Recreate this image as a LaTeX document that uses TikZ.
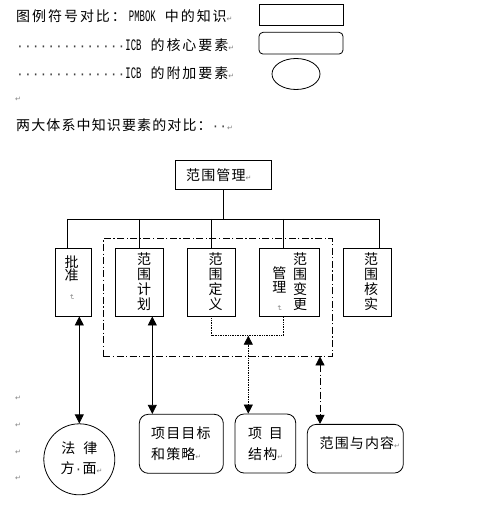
\documentclass[tikz,border=0pt]{standalone}
\usepackage{fontspec}
\usepackage{graphicx}
\usetikzlibrary{arrows.meta,shapes.geometric}
\newfontfamily\zhf[LetterSpace=8]{Noto Sans CJK SC}
\newfontfamily\zhw[LetterSpace=14]{Noto Sans CJK SC}
\newfontfamily\lmf{Liberation Mono}
\newfontfamily\syf{DejaVu Sans}
\newcommand\pmk{{\syf\fontsize{7}{7}\selectfont\textcolor{gray}{↵}}}
\newcommand\latw[1]{\scalebox{0.56}[1]{\lmf\fontsize{16}{16}\selectfont #1}}
\newcommand\spd[1]{{\lmf\fontsize{13}{13}\selectfont\textcolor{black!75}{#1}}}
\begin{document}
\begin{tikzpicture}[x=1pt,y=-1pt,
  bx/.style={draw, line width=0.8pt, inner sep=0},
  tx/.style={inner sep=0, font=\zhf\fontsize{14}{15}\selectfont, align=center},
  txs/.style={inner sep=0, font=\zhf\fontsize{14}{13.5}\selectfont, align=center},
  lk/.style={line width=0.8pt},
  dbl/.style={lk, {Triangle[length=9pt,width=9pt]}-{Triangle[length=9pt,width=9pt]}},
  ddot/.style={dash pattern=on 7pt off 2.5pt on 1.2pt off 2.5pt}]
\useasboundingbox (0,0) rectangle (483,510);
\fill[white] (0,0) rectangle (483,510);

% legend
\node[tx, anchor=west] (lg1) at (16,16.5) {{\zhw 图例符号对比：}\hspace{3pt}\latw{PMBOK}\hspace{9pt}{\zhw 中的知识}\pmk};
\node[bx, minimum width=84pt, minimum height=21.4pt] (k1) at (301,15) {};
\node[tx, anchor=west] (lg2) at (16,45) {\spd{··············}\latw{ICB}\hspace{9pt}{\zhw 的核心要素}\pmk};
\node[bx, rounded corners=4pt, minimum width=84pt, minimum height=21.7pt] (k2) at (301,43.2) {};
\node[tx, anchor=west] (lg3) at (16,73.5) {\spd{··············}\latw{ICB}\hspace{9pt}{\zhw 的附加要素}\pmk};
\node[bx, ellipse, minimum width=48pt, minimum height=31pt] (k3) at (296,74) {};
\node[tx] (pm0) at (18,99) {\pmk};
\node[tx, anchor=west] (lg4) at (16,125) {两大体系中知识要素的对比：\spd{··}\pmk};

% top
\node[bx, minimum width=96.7pt, minimum height=29pt] (top) at (223.3,174.5) {};
\node[tx, anchor=west] (topt) at (186,175) {范围管理\pmk};

\coordinate (t1) at (67.3,219);
\coordinate (t2) at (139.3,219);
\coordinate (t3) at (211.7,219);
\coordinate (t4) at (283.3,219);
\coordinate (t5) at (379.3,219);

\node[bx, minimum width=36pt, minimum height=67.7pt] (b1) at (73.7,282.2) {};
\node[bx, minimum width=47.6pt, minimum height=67.7pt] (b2) at (139.5,282.2) {};
\node[bx, minimum width=48pt, minimum height=67.7pt] (b3) at (211.7,282.2) {};
\node[bx, minimum width=60pt, minimum height=67.7pt] (b4) at (289.3,282.2) {};
\node[bx, minimum width=48.4pt, minimum height=67.7pt] (b5) at (367.5,282.2) {};

\draw[lk] (top.south) -- (top.south |- t1);
\draw[lk] (t1) -- (t5);
\draw[lk] (t1) -- (t1 |- b1.north);
\draw[lk] (t2) -- (t2 |- b2.north);
\draw[lk] (t3) -- (t3 |- b3.north);
\draw[lk] (t4) -- (t4 |- b4.north);
\draw[lk] (t5) -- (t5 |- b5.north);

\node[txs] (v1) at (71.7,277.7) {批\\准\\\rotatebox{-90}{\pmk}};
\node[tx] (v2) at (144,281.6) {范\\围\\计\\划};
\node[tx] (v3) at (215.7,281.6) {范\\围\\定\\义};
\node[tx] (v4a) at (300,281.6) {范\\围\\变\\更};
\node[txs] (v4b) at (279.3,289.3) {管\\理\\\rotatebox{-90}{\pmk}};
\node[tx] (v5) at (371,281.6) {范\\围\\核\\实};

% dash-dot frame
\node[draw, lk, ddot, inner sep=0, minimum width=228.7pt, minimum height=117.7pt] (dd) at (217.65,297.15) {};

% dotted link
\coordinate (dc) at (283.3,335.7);
\coordinate (dm) at (248.3,335.7);
\draw[line width=0.7pt, densely dotted] (b3.south) |- (dc) -- (dc |- b4.south);

% bottom shapes
\node[bx, circle, minimum size=71pt] (c1) at (79.3,459.3) {};
\node[bx, rounded corners=9pt, minimum width=84pt, minimum height=59pt] (s2) at (181.3,443.8) {};
\node[bx, rounded corners=9pt, minimum width=60.7pt, minimum height=59pt] (s3) at (265.4,443.5) {};
\node[bx, rounded corners=9pt, minimum width=96pt, minimum height=48.7pt] (s4) at (355.3,448.7) {};

\node[tx] (c1a) at (79.3,448.3) {法\hspace{8pt}律};
\node[tx, anchor=west] (c1b) at (60.5,468.3) {方\spd{·}面{\tiny\pmk}};
\node[tx, anchor=west] (s2a) at (151,433.3) {项目目标};
\node[tx, anchor=west] (s2b) at (151,454) {和策略\pmk};
\node[tx, anchor=west] (s3a) at (248,433) {项\hspace{6.6pt}目};
\node[tx, anchor=west] (s3b) at (248,454) {结构\pmk};
\node[tx, anchor=west] (s4a) at (319.5,443.3) {范围与内容{\tiny\pmk}};

% arrows
\coordinate (x2) at (152.3,0);
\coordinate (x4) at (320,0);
\draw[dbl] (c1.north |- b1.south) -- (c1.north);
\draw[dbl] (b2.south -| x2) -- (s2.north -| x2);
\draw[dbl, line width=0.7pt, densely dotted] (dm) -- (s3.north -| dm);
\draw[dbl, ddot] (dd.south -| x4) -- (s4.north -| x4);

% stray paragraph marks
\node[tx] (pm1) at (18,398) {\pmk};
\node[tx] (pm2) at (18,425) {\pmk};
\node[tx] (pm3) at (18,452) {\pmk};
\node[tx] (pm4) at (18,478) {\pmk};
\end{tikzpicture}
\end{document}
